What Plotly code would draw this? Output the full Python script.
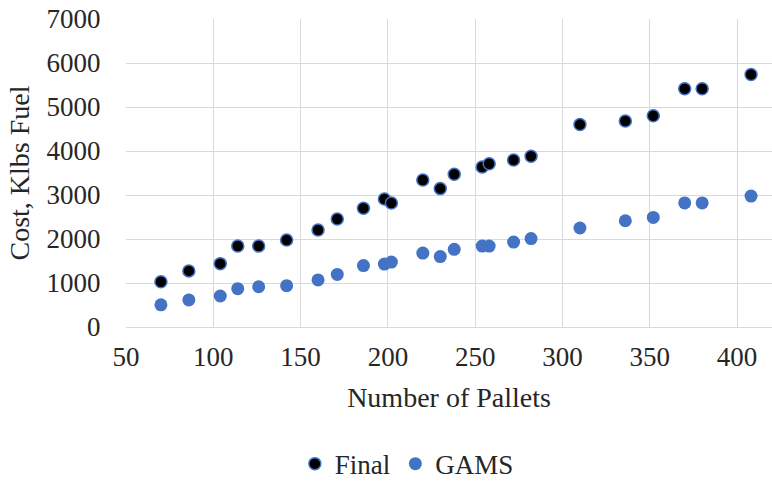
import plotly.graph_objects as go

pallets = [70, 86, 104, 114, 126, 142, 160, 171, 186, 198, 202, 220,
           230, 238, 254, 258, 272, 282, 310, 336, 352, 370, 380, 408]
final_cost = [1030, 1275, 1440, 1840, 1840, 1975, 2205, 2455, 2700, 2910, 2820, 3340,
              3145, 3470, 3635, 3710, 3795, 3880, 4600, 4680, 4800, 5415, 5415, 5740]
gams_cost = [505, 615, 705, 870, 915, 940, 1070, 1195, 1395, 1430, 1475, 1680,
             1600, 1765, 1840, 1840, 1930, 2010, 2250, 2415, 2490, 2820, 2820, 2975]

x_ticks = [50, 100, 150, 200, 250, 300, 350, 400]
y_ticks = [0, 1000, 2000, 3000, 4000, 5000, 6000, 7000]

BLUE = "#4472C4"
FAMILY = "Liberation Serif, Times New Roman, serif"
FONT = dict(family=FAMILY, size=27, color="#262626")
TFONT = dict(family=FAMILY, size=28, color="#262626")
LFONT = dict(family=FAMILY, size=27, color="#262626")

fig = go.Figure()
fig.add_trace(go.Scatter(
    x=pallets, y=final_cost, mode="markers", name="Final",
    marker=dict(color="black", size=12, line=dict(color=BLUE, width=1.5)),
))
fig.add_trace(go.Scatter(
    x=pallets, y=gams_cost, mode="markers", name="GAMS",
    marker=dict(color=BLUE, size=13, line=dict(width=0)),
))

fig.update_layout(
    width=772, height=482,
    margin=dict(l=126, r=0, t=19, b=155),
    paper_bgcolor="white", plot_bgcolor="white",
    font=FONT,
    showlegend=True,
    legend=dict(orientation="h", xref="container", yref="container",
                x=0.527, y=0.088, xanchor="center", yanchor="top",
                font=LFONT, itemwidth=30, traceorder="normal"),
)
fig.update_xaxes(
    range=[50, 420], tickvals=x_ticks, ticktext=[str(v) for v in x_ticks],
    showgrid=True, gridcolor="#d9d9d9", gridwidth=1,
    showline=True, linecolor="#d9d9d9", linewidth=1,
    zeroline=False, automargin=False,
    ticks="outside", ticklen=6, tickcolor="rgba(0,0,0,0)",
    title=dict(text="Number of Pallets", font=TFONT, standoff=15),
)
fig.update_yaxes(
    range=[0, 7000], tickvals=y_ticks, ticktext=[str(v) for v in y_ticks],
    showgrid=True, gridcolor="#d9d9d9", gridwidth=1,
    showline=False, zeroline=False, automargin=False,
    ticks="outside", ticklen=19, tickcolor="rgba(0,0,0,0)",
    title=dict(text="Cost, Klbs Fuel", font=TFONT, standoff=8),
)

fig.write_html(
    "out.html",
    config={"displayModeBar": False},
    post_script="document.body.style.margin='0';document.body.style.overflow='hidden';",
)
